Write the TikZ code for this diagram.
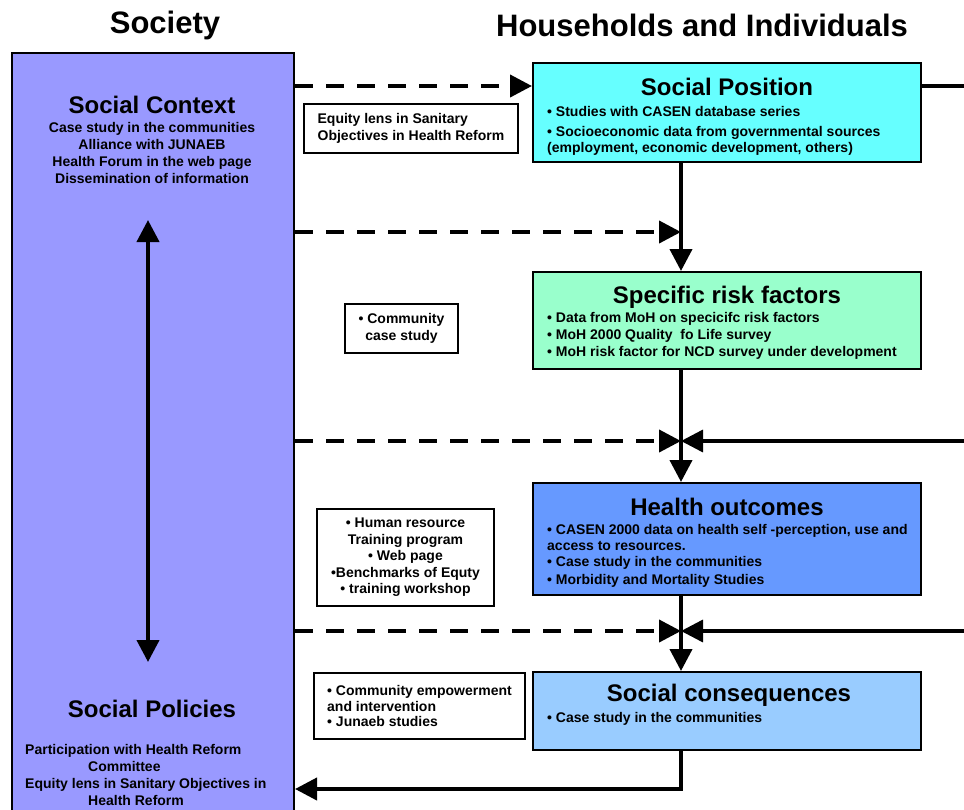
\documentclass[tikz,border=0pt]{standalone}
\usepackage{fontspec}
\setmainfont{Liberation Sans}
\usetikzlibrary{arrows.meta,positioning}

\definecolor{socfill}{HTML}{9999FF}
\definecolor{posfill}{HTML}{66FFFF}
\definecolor{riskfill}{HTML}{99FFCC}
\definecolor{outfill}{HTML}{6699FF}
\definecolor{consfill}{HTML}{99CCFF}

\begin{document}
\begin{tikzpicture}[x=1pt,y=-1pt,
    head/.style={font=\fontsize{31}{33}\selectfont\bfseries},
    boxtitle/.style={font=\fontsize{24}{26}\selectfont\bfseries},
    box/.style={draw, line width=2pt, minimum width=388pt, inner sep=0pt},
    note/.style={draw, line width=1.5pt, inner sep=0pt,
      font=\fontsize{14}{16.5}\selectfont\bfseries},
    items/.style={anchor=north west, inner sep=0pt, align=left},
    sub/.style={align=center, inner sep=0pt,
      font=\fontsize{14}{16.7}\selectfont\bfseries},
    flow/.style={line width=4pt, -{Triangle[length=22pt,width=22pt]}},
    back/.style={line width=3.5pt, -{Triangle[length=22pt,width=22pt]}},
    dashline/.style={line width=4pt, dash pattern=on 18pt off 13pt,
      -{Triangle[length=22pt,width=22pt]}}]
  \useasboundingbox (0,0) rectangle (964,809);

  \node[head] (hsoc) at (165,25) {Society};
  \node[head] (hhouse) at (702,25) {Households and Individuals};

  % society side
  \node[draw, line width=2pt, fill=socfill, minimum width=282pt,
    minimum height=762pt] (soc) at (153,434) {};
  \node[boxtitle] (ctx) at (152,105) {Social Context};
  \node[sub] (ctxtxt) at (152,153) {Case study in the communities\\
    Alliance with JUNAEB\\Health Forum in the web page\\
    Dissemination of information};
  \node[boxtitle] (pol) at (152,709) {Social Policies};
  \node[sub, align=left, anchor=west] (poltxt) at (25,775) {Participation with Health Reform\\
    \hspace{63pt}Committee\\Equity lens in Sanitary Objectives in\\\hspace{63pt}Health Reform};
  \coordinate (up) at (148,220);
  \coordinate (down) at (148,662);
  \draw[line width=4pt, {Triangle[length=22pt,width=22pt]}-{Triangle[length=22pt,width=22pt]}]
    (up) -- (down);

  % notes between
  \node[note, minimum width=214pt, minimum height=49pt, align=left] (lens)
    at (411,128.5) {Equity lens in Sanitary\\Objectives in Health Reform};
  \node[note, minimum width=113pt, minimum height=49pt, align=center] (comm)
    at (401.5,328.5) {• Community\\case study};
  \node[note, minimum width=177pt, minimum height=97pt, align=center] (hr)
    at (405.5,557.5) {• Human resource\\Training program\\• Web page\\
    •Benchmarks of Equty\\• training workshop};
  \node[note, minimum width=211pt, minimum height=66pt, align=left,
    font=\fontsize{14}{15.5}\selectfont\bfseries] (emp)
    at (419.5,706) {• Community empowerment\\and intervention\\• Junaeb studies};

  % households side
  \node[box, fill=posfill, minimum height=99pt] (pos) at (727,112.5) {};
  \node[boxtitle] (posT) at (727,87) {Social Position};
  \node[items, font=\fontsize{14}{16}\selectfont\bfseries] (posL) at (547,106)
    {• Studies with CASEN database series\\[4pt]
     • Socioeconomic data from governmental sources\\
     (employment, economic development, others)};

  \node[box, fill=riskfill, minimum height=97pt] (risk) at (727,320.5) {};
  \node[boxtitle] (riskT) at (727,297) {Specific risk factors};
  \node[items, font=\fontsize{14}{17}\selectfont\bfseries] (riskL) at (547,312)
    {• Data from MoH on specicifc risk factors\\
     • MoH 2000 Quality \ fo Life survey\\
     • MoH risk factor for NCD survey under development};

  \node[box, fill=outfill, minimum height=112pt] (out) at (727,539) {};
  \node[boxtitle] (outT) at (727,507) {Health outcomes};
  \node[items, font=\fontsize{14}{16}\selectfont\bfseries] (outL) at (547,524)
    {• CASEN 2000 data on health self -perception, use and\\
     access to resources.\\
     • Case study in the communities\\[2pt]
     • Morbidity and Mortality Studies};

  \node[box, fill=consfill, minimum height=78pt] (cons) at (727,711) {};
  \node[boxtitle] (consT) at (729,695) {Social consequences};
  \node[items, font=\fontsize{14}{16}\selectfont\bfseries] (consL) at (547,712)
    {• Case study in the communities};

  % connectors
  \coordinate (spine) at (681,0);
  \coordinate (r0) at (964,86);
  \coordinate (j1) at (681,232);
  \coordinate (j2) at (681,441);
  \coordinate (r2) at (964,441);
  \coordinate (j3) at (681,631);
  \coordinate (r3) at (964,631);
  \coordinate (j4) at (681,789);

  \draw[dashline] (soc.east |- r0) -- (pos.west |- r0);
  \draw[line width=3.5pt] (pos.east |- r0) -- (r0);
  \draw[flow] (spine |- pos.south) -- (spine |- risk.north);
  \draw[dashline] (soc.east |- j1) -- (j1);
  \draw[flow] (spine |- risk.south) -- (spine |- out.north);
  \draw[dashline] (soc.east |- j2) -- (j2);
  \draw[back] (r2) -- (j2);
  \draw[flow] (spine |- out.south) -- (spine |- cons.north);
  \draw[dashline] (soc.east |- j3) -- (j3);
  \draw[back] (r3) -- (j3);
  \draw[flow] (spine |- cons.south) |- (soc.east |- j4);
\end{tikzpicture}
\end{document}
